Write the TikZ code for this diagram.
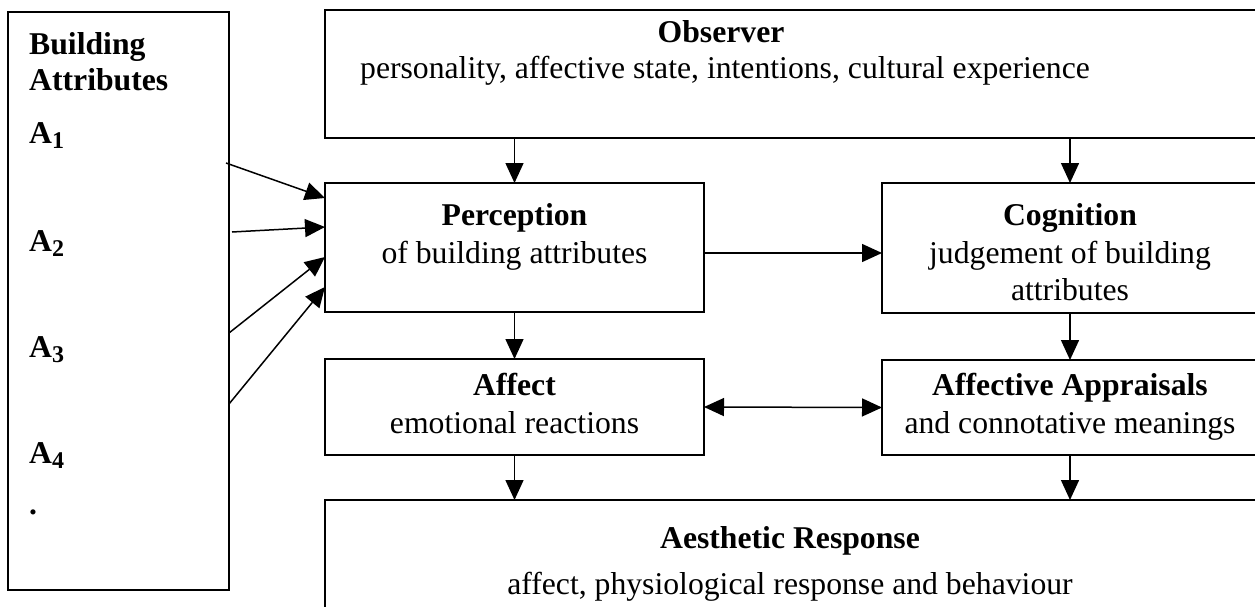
\documentclass[tikz,border=0pt]{standalone}
\usepackage{fontspec}
\setmainfont{Liberation Serif}
\usetikzlibrary{arrows.meta}
\newcommand\subidx[1]{\raisebox{-0.18em}{\fontsize{24}{24}\selectfont\bfseries #1}}
\begin{document}
\begin{tikzpicture}[x=1pt,y=-1pt,
  box/.style={draw,line width=2pt,inner sep=0pt,outer sep=0pt,anchor=north west},
  txt/.style={inner sep=0pt,anchor=base,font=\fontsize{31.7}{36.5}\selectfont},
  btxt/.style={txt,font=\fontsize{31.7}{36.5}\selectfont\bfseries},
  ltxt/.style={btxt,anchor=base west},
  arr/.style={line width=1.5pt,-{Triangle[length=20pt,width=18pt]}},
  darr/.style={line width=1.5pt,{Triangle[length=20pt,width=18pt]}-{Triangle[length=20pt,width=18pt]}}]
\useasboundingbox (0,0) rectangle (1255,607);
\clip (0,0) rectangle (1255,607);
% boxes
\node[box,minimum width=221pt,minimum height=578pt] (ba) at (8,12) {};
\node[box,minimum width=933pt,minimum height=128pt] (obs) at (325,10) {};
\node[box,minimum width=379pt,minimum height=129pt] (perc) at (325,183) {};
\node[box,minimum width=376pt,minimum height=130pt] (cog) at (882,183) {};
\node[box,minimum width=379pt,minimum height=96pt] (aff) at (325,359) {};
\node[box,minimum width=376pt,minimum height=95pt] (app) at (882,360) {};
\node[box,minimum width=933pt,minimum height=120pt] (aes) at (325,500) {};
% texts
\node[ltxt] (tb1) at (29,55) {Building};
\node[ltxt] (tb2) at (29,91) {Attributes};
\node[ltxt] (ta1) at (29,143) {A\subidx{1}};
\node[ltxt] (ta2) at (29,251) {A\subidx{2}};
\node[ltxt] (ta3) at (29,357) {A\subidx{3}};
\node[ltxt] (ta4) at (29,463) {A\subidx{4}};
\node[ltxt] (tdot) at (29,514) {.};
\node[btxt] (to1) at (721,43) {Observer};
\node[txt] (to2) at (725,79) {personality, affective state, intentions, cultural experience};
\node[btxt] (tp1) at (514.5,225) {Perception};
\node[txt] (tp2) at (514.5,263) {of building attributes};
\node[btxt] (tc1) at (1070,225) {Cognition};
\node[txt] (tc2) at (1070,263) {judgement of building};
\node[txt] (tc3) at (1070,300) {attributes};
\node[btxt] (tf1) at (514.5,395) {Affect};
\node[txt] (tf2) at (514.5,433) {emotional reactions};
\node[btxt] (tq1) at (1070,395) {Affective Appraisals};
\node[txt] (tq2) at (1070,433) {and connotative meanings};
\node[btxt] (te1) at (790,548) {Aesthetic Response};
\node[txt] (te2) at (790,594) {affect, physiological response and behaviour};
% connectors
\coordinate (s1) at (226,163);
\coordinate (s2) at (232,232);
\coordinate (s3) at (229,333);
\coordinate (s4) at (229,404);
\coordinate (t1) at (325,198);
\coordinate (t2) at (325,227);
\coordinate (t3) at (325,257);
\coordinate (t4) at (325,287);
\draw[arr] (s1) -- (t1);
\draw[arr] (s2) -- (t2);
\draw[arr] (s3) -- (t3);
\draw[arr] (s4) -- (t4);
\draw[arr] (obs.south -| perc.north) -- (perc.north);
\draw[arr] (obs.south -| cog.north) -- (cog.north);
\draw[arr] ([yshift=-5.5pt]perc.east) -- ([yshift=-5.5pt]perc.east -| cog.west);
\draw[arr] (perc.south) -- (aff.north);
\draw[arr] (cog.south) -- (app.north);
\draw[darr] (aff.east) -- (app.west);
\draw[arr] (aff.south) -- (aff.south |- aes.north);
\draw[arr] (app.south) -- (app.south |- aes.north);
\end{tikzpicture}
\end{document}
